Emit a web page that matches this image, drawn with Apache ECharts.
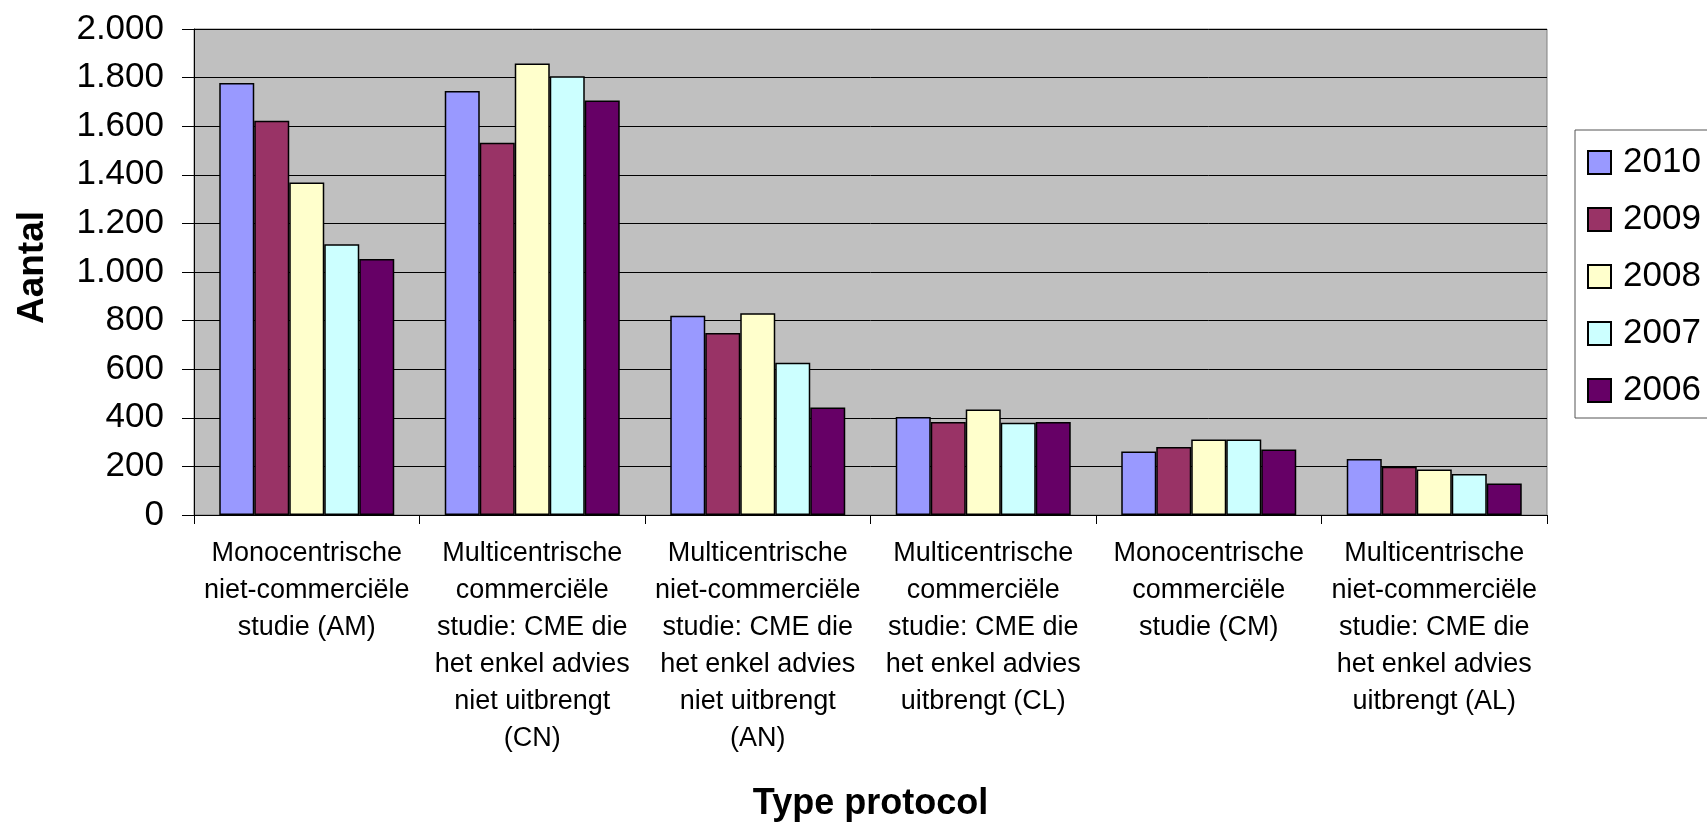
<!DOCTYPE html>
<html>
<head>
<meta charset="utf-8">
<script src="https://cdn.jsdelivr.net/npm/echarts@6/dist/echarts.min.js"></script>
<style>
  html, body { margin: 0; padding: 0; background: #fff; }
  #chart { width: 1707px; height: 827px; }
</style>
</head>
<body>
<div id="chart"></div>
<script>
// Protocol types (x axis), one group of bars per type
const categories = [
  'Monocentrische\nniet-commerciële\nstudie (AM)',
  'Multicentrische\ncommerciële\nstudie: CME die\nhet enkel advies\nniet uitbrengt\n(CN)',
  'Multicentrische\nniet-commerciële\nstudie: CME die\nhet enkel advies\nniet uitbrengt\n(AN)',
  'Multicentrische\ncommerciële\nstudie: CME die\nhet enkel advies\nuitbrengt (CL)',
  'Monocentrische\ncommerciële\nstudie (CM)',
  'Multicentrische\nniet-commerciële\nstudie: CME die\nhet enkel advies\nuitbrengt (AL)'
];

// Number of protocols per year
const years = ['2010', '2009', '2008', '2007', '2006'];
const values2010 = [1778, 1745, 820, 403, 261, 230];
const values2009 = [1622, 1532, 749, 383, 280, 199];
const values2008 = [1368, 1858, 830, 434, 311, 187];
const values2007 = [1114, 1806, 627, 380, 311, 169];
const values2006 = [1054, 1706, 442, 383, 270, 130];
const seriesValues = [values2010, values2009, values2008, values2007, values2006];
const seriesColors = ['#9999FF', '#993366', '#FFFFCC', '#CCFFFF', '#660066'];

const font = "'Liberation Sans', Arial, sans-serif";

// Dutch thousands separator: 1800 -> "1.800"
function formatThousands(v) {
  return String(v).replace(/\B(?=(\d{3})+(?!\d))/g, '.');
}

const chart = echarts.init(document.getElementById('chart'));
chart.setOption({
  animation: false,
  backgroundColor: '#ffffff',
  textStyle: { fontFamily: font },
  grid: {
    left: 194, right: 160, top: 29, bottom: 308,
    show: true,
    backgroundColor: '#C0C0C0',
    borderColor: '#808080',
    borderWidth: 1
  },
  legend: {
    orient: 'vertical',
    left: 1575,
    top: 130,
    data: years,
    icon: 'rect',
    itemWidth: 23,
    itemHeight: 23,
    itemGap: 22,
    padding: [15, 20, 10, 12],
    backgroundColor: '#ffffff',
    borderColor: '#555555',
    borderWidth: 1,
    textStyle: {
      fontFamily: font,
      fontSize: 35,
      lineHeight: 35,
      color: '#000',
      padding: [0, 0, 0, 7]
    }
  },
  xAxis: {
    type: 'category',
    data: categories,
    name: 'Type protocol',
    nameLocation: 'middle',
    nameGap: 271,
    nameTextStyle: { fontFamily: font, fontSize: 36, fontWeight: 'bold', color: '#000' },
    axisLine: { lineStyle: { color: '#000', width: 1 } },
    axisTick: { show: true, length: 9, lineStyle: { color: '#000' } },
    axisLabel: {
      interval: 0,
      margin: 20,
      fontFamily: font,
      fontSize: 27,
      lineHeight: 37,
      color: '#000',
      align: 'center'
    }
  },
  yAxis: {
    type: 'value',
    min: 0,
    max: 2000,
    interval: 200,
    name: 'Aantal',
    nameLocation: 'middle',
    nameRotate: 90,
    nameGap: 143,
    nameTextStyle: {
      fontFamily: font, fontSize: 37, fontWeight: 'bold', color: '#000',
      padding: [0, 0, 0, 9]
    },
    axisLine: { show: true, lineStyle: { color: '#000', width: 1 } },
    axisTick: { show: true, length: 12, lineStyle: { color: '#000' } },
    axisLabel: {
      margin: 30,
      fontFamily: font,
      fontSize: 35,
      color: '#000',
      formatter: formatThousands
    },
    splitLine: { show: true, lineStyle: { color: '#000', width: 1 } }
  },
  series: years.map((y, i) => ({
    name: y,
    type: 'bar',
    data: seriesValues[i],
    barGap: '0%',
    barCategoryGap: '22.4%',
    itemStyle: {
      color: seriesColors[i],
      borderColor: '#000',
      borderWidth: 1.5
    }
  }))
});
</script>
</body>
</html>
